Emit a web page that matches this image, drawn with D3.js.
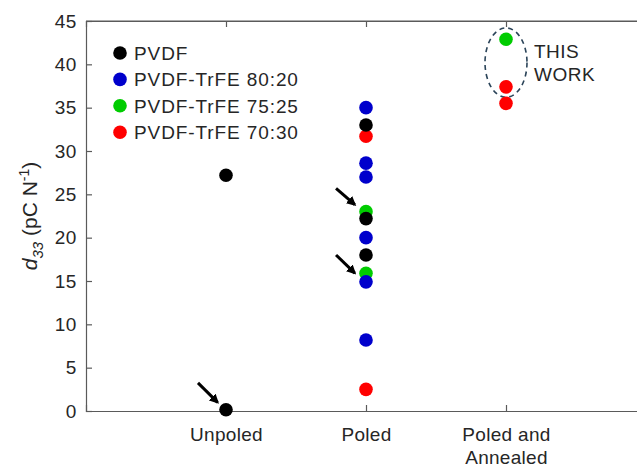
<!DOCTYPE html>
<html>
<head>
<meta charset="utf-8">
<script src="https://cdn.jsdelivr.net/npm/d3@7"></script>
<style>
  body { margin: 0; background: #fff; }
  svg { display: block; overflow: hidden; }
  text { font-family: "Liberation Sans", Arial, sans-serif; fill: #262626; }
</style>
</head>
<body>
<div id="chart"></div>
<script>
var categories = ["Unpoled", "Poled", "Poled and Annealed"];
var yTicks = [0, 5, 10, 15, 20, 25, 30, 35, 40, 45];

var seriesNames = ["PVDF", "PVDF-TrFE 80:20", "PVDF-TrFE 75:25", "PVDF-TrFE 70:30"];
var seriesColors = ["#000000", "#0000cc", "#00cc00", "#ff0000"];

// category index (1 = Unpoled, 2 = Poled, 3 = Poled and Annealed) and d33 value
var pvdfCat = [1, 1, 2, 2, 2];
var pvdfVal = [27.2, 0.15, 33.0, 22.2, 18.0];
var trfe8020Cat = [2, 2, 2, 2, 2, 2];
var trfe8020Val = [35.0, 28.6, 27.0, 20.0, 14.9, 8.2];
var trfe7525Cat = [2, 2, 3];
var trfe7525Val = [23.0, 15.9, 42.9];
var trfe7030Cat = [2, 2, 3, 3];
var trfe7030Val = [31.7, 2.5, 37.4, 35.5];

// arrows: start (x1,y1) -> tip (x2,y2) in data units
var arrowX1 = [0.8, 1.786, 1.786];
var arrowY1 = [3.25, 25.7, 18.0];
var arrowX2 = [0.94, 1.92, 1.92];
var arrowY2 = [1.0, 23.8, 15.9];

var margin = { top: 21, left: 86, bottom: 57 };
var width = 560, height = 390;

var svg = d3
  .select("#chart")
  .append("svg")
  .attr("width", 637)
  .attr("height", 468)
  .append("g")
  .attr("transform", "translate(" + margin.left + "," + margin.top + ")");

var x = d3.scaleLinear().domain([0, 4]).range([0, width]);
var y = d3.scaleLinear().domain([0, 45]).range([height, 0]);

var axisColor = "#5a5a5a";

// box
svg.append("line").attr("x1", 0).attr("x2", width).attr("y1", 0).attr("y2", 0)
  .style("stroke", axisColor).style("stroke-width", 1.2);
svg.append("line").attr("x1", width).attr("x2", width).attr("y1", 0).attr("y2", height)
  .style("stroke", axisColor).style("stroke-width", 1.2);

var yAxis = d3.axisLeft(y).tickValues(yTicks).tickSize(-6).tickPadding(9);
var gy = svg.append("g").call(yAxis);
gy.selectAll("text").style("font-size", "19px").style("letter-spacing", "0.6px");

var xAxis = d3.axisBottom(x).tickValues([1, 2, 3]).tickSize(-6).tickPadding(17)
  .tickFormat(function (d) { return categories[d - 1]; });
var gx = svg.append("g").attr("transform", "translate(0," + height + ")").call(xAxis);
gx.selectAll("text").style("font-size", "19px").style("letter-spacing", "0.3px");
gx.selectAll(".tick text").each(function (d) {
  var t = d3.select(this);
  var words = categories[d - 1] === "Poled and Annealed" ? ["Poled and", "Annealed"] : [categories[d - 1]];
  if (words.length > 1) {
    t.text(null);
    words.forEach(function (w, i) {
      t.append("tspan").attr("x", 0).attr("dy", i === 0 ? "0.71em" : "1.2em").text(w);
    });
    t.attr("dy", null);
  }
});

var xTop = d3.axisTop(x).tickValues([1, 2, 3]).tickSize(-6).tickFormat("");
svg.append("g").call(xTop);

svg.selectAll(".domain").style("stroke", axisColor).style("stroke-width", 1.2);
svg.selectAll(".tick line").style("stroke", axisColor).style("stroke-width", 1.2);

// y label
var ylab = svg.append("text")
  .attr("transform", "translate(" + (37 - margin.left) + "," + height / 2 + ") rotate(-90)")
  .attr("text-anchor", "middle")
  .style("font-size", "21px");
ylab.append("tspan").style("font-style", "italic").text("d");
ylab.append("tspan").style("font-style", "italic").style("font-size", "15px").attr("dy", 6).text("33");
ylab.append("tspan").attr("dy", -6).text(" (pC N");
ylab.append("tspan").style("font-size", "14px").attr("dy", -8).text("-1");
ylab.append("tspan").attr("dy", 8).text(")");

// ellipse around this work
svg.append("ellipse")
  .attr("cx", x(3))
  .attr("cy", y(40.2))
  .attr("rx", x(0.15) - x(0))
  .attr("ry", y(0) - y(4))
  .style("fill", "none")
  .style("stroke", "#2b4459")
  .style("stroke-width", 1.6)
  .style("stroke-dasharray", "5,4");

svg.append("text")
  .attr("x", x(3) + 28)
  .attr("y", y(40.2))
  .style("font-size", "19px")
  .style("letter-spacing", "0.5px")
  .selectAll("tspan")
  .data(["THIS", "WORK"])
  .enter()
  .append("tspan")
  .attr("x", x(3) + 28)
  .attr("dy", function (d, i) { return i === 0 ? "-0.25em" : "1.2em"; })
  .text(function (d) { return d; });

// points, drawn red, green, blue, black so black sits on top
var series = [
  { cat: trfe7030Cat, val: trfe7030Val, color: seriesColors[3] },
  { cat: trfe7525Cat, val: trfe7525Val, color: seriesColors[2] },
  { cat: trfe8020Cat, val: trfe8020Val, color: seriesColors[1] },
  { cat: pvdfCat, val: pvdfVal, color: seriesColors[0] }
];
series.forEach(function (s) {
  svg.append("g")
    .selectAll("circle")
    .data(s.val)
    .enter()
    .append("circle")
    .attr("cx", function (d, i) { return x(s.cat[i]); })
    .attr("cy", function (d) { return y(d); })
    .attr("r", 6.8)
    .style("fill", s.color);
});

// arrows
svg.append("defs").append("marker")
  .attr("id", "head")
  .attr("viewBox", "0 0 10 10")
  .attr("refX", 8)
  .attr("refY", 5)
  .attr("markerWidth", 3.2)
  .attr("markerHeight", 3.2)
  .attr("orient", "auto")
  .append("path")
  .attr("d", "M0,0 L10,5 L0,10 z")
  .style("fill", "#000");

svg.append("g")
  .selectAll("line")
  .data(arrowX1)
  .enter()
  .append("line")
  .attr("x1", function (d) { return x(d); })
  .attr("y1", function (d, i) { return y(arrowY1[i]); })
  .attr("x2", function (d, i) { return x(arrowX2[i]); })
  .attr("y2", function (d, i) { return y(arrowY2[i]); })
  .style("stroke", "#000")
  .style("stroke-width", 3)
  .attr("marker-end", "url(#head)");

// legend
var legend = svg.append("g").attr("transform", "translate(" + (120 - margin.left) + "," + (53 - margin.top) + ")");
var rows = legend.selectAll("g")
  .data(seriesNames)
  .enter()
  .append("g")
  .attr("transform", function (d, i) { return "translate(0," + i * 26.4 + ")"; });
rows.append("circle")
  .attr("r", 6.8)
  .style("fill", function (d, i) { return seriesColors[i]; });
rows.append("text")
  .attr("x", 14)
  .attr("dy", "0.36em")
  .style("font-size", "19px")
  .style("letter-spacing", "0.9px")
  .text(function (d) { return d; });
</script>
</body>
</html>
